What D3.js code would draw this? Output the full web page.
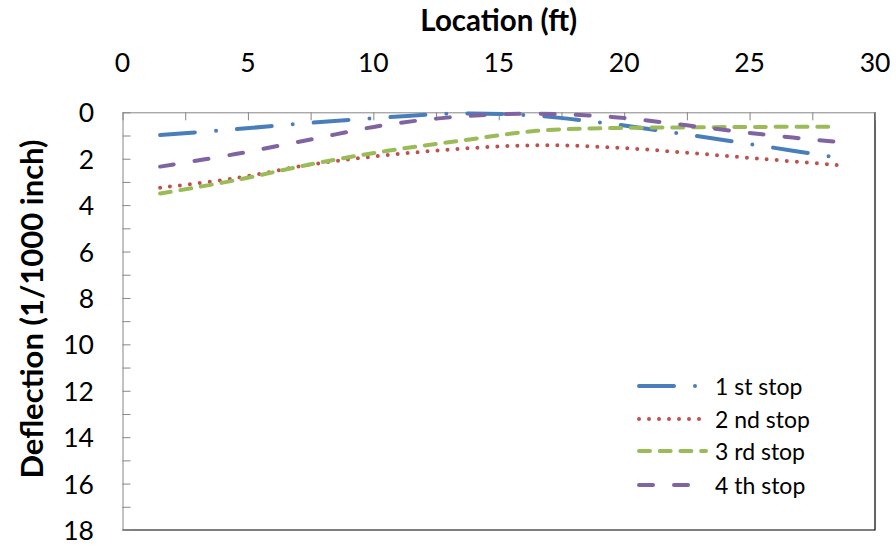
<!DOCTYPE html>
<html>
<head>
<meta charset="utf-8">
<script src="https://cdn.jsdelivr.net/npm/d3@7"></script>
<style>
  html, body { margin: 0; padding: 0; background: #fff; }
  svg { display: block; }
</style>
</head>
<body>
<svg id="chart" width="896" height="546"></svg>
<script>
// ---- data ----
const locations = [1.5, 4.5, 7.5, 10.5, 13.5, 16.5, 19.5, 22.5, 25.5, 28.5];
const stop1 = [0.98, 0.73, 0.45, 0.22, 0.05, 0.15, 0.50, 0.96, 1.45, 1.95];
const stop2 = [3.25, 2.84, 2.25, 1.85, 1.57, 1.42, 1.51, 1.74, 2.01, 2.27];
const stop3 = [3.50, 2.93, 2.24, 1.67, 1.22, 0.80, 0.68, 0.65, 0.63, 0.62];
const stop4 = [2.34, 1.80, 1.17, 0.54, 0.18, 0.06, 0.20, 0.56, 0.95, 1.28];
const seriesNames = ["1 st stop", "2 nd stop", "3 rd stop", "4 th stop"];
const xTicks = [0, 5, 10, 15, 20, 25, 30];
const yTicks = [0, 2, 4, 6, 8, 10, 12, 14, 16, 18];
const xTitle = "Location (ft)";
const yTitle = "Deflection (1/1000 inch)";

(function () {
const seriesValues = [stop1, stop2, stop3, stop4];
const colors = ["#4a7ebb", "#c0504d", "#9bbb59", "#8064a2"];
const dashes = ["35 21 0 21", "0 10", "11 9.7", "14 21"];

const svg = d3.select("#chart");
const pLeft = 122.5, pRight = 875, pTop = 112.3, pBottom = 530;
const x = d3.scaleLinear().domain([0, 30]).range([pLeft, pRight]);
const y = d3.scaleLinear().domain([0, 18]).range([pTop, pBottom]);

const FONT = "Lato, 'Open Sans', sans-serif";

// plot-area border (right & bottom, black)
svg.append("path")
  .attr("d", `M${pRight},${pTop}V${pBottom}H${pLeft}`)
  .attr("fill", "none").attr("stroke", "#000").attr("stroke-width", 1.2);

// top axis
const xAxis = d3.axisTop(x).tickValues(d3.range(0, 30.01, 2.5)).tickSizeInner(-8).tickSizeOuter(0).tickFormat("");
const gx = svg.append("g").attr("transform", `translate(0,${pTop})`).call(xAxis);
gx.select(".domain").attr("stroke", "#868686");
gx.selectAll(".tick line").attr("stroke", "#868686");

// x tick labels
svg.append("g").selectAll("text").data(xTicks).join("text")
  .attr("x", d => x(d)).attr("y", 62)
  .attr("text-anchor", "middle").attr("dominant-baseline", "central")
  .attr("font-family", FONT).attr("font-size", 26.5).attr("fill", "#000")
  .text(d => d);

// left axis
const yAxis = d3.axisLeft(y).tickValues(d3.range(0, 18.01, 1)).tickSizeInner(-8).tickSizeOuter(0).tickFormat("");
const gy = svg.append("g").attr("transform", `translate(${pLeft},0)`).call(yAxis);
gy.select(".domain").attr("stroke", "#868686");
gy.selectAll(".tick line").attr("stroke", "#868686");

svg.append("g").selectAll("text").data(yTicks).join("text")
  .attr("x", 94).attr("y", d => y(d))
  .attr("text-anchor", "end").attr("dominant-baseline", "central")
  .attr("font-family", FONT).attr("font-size", 26.5).attr("fill", "#000")
  .text(d => d);

// titles
svg.append("text").attr("x", (pLeft + pRight) / 2).attr("y", 19)
  .attr("text-anchor", "middle").attr("dominant-baseline", "central")
  .attr("font-family", FONT).attr("font-weight", "bold").attr("font-size", 29.5)
  .text(xTitle);
svg.append("text").attr("transform", `translate(31,${309}) rotate(-90)`)
  .attr("text-anchor", "middle").attr("dominant-baseline", "central")
  .attr("font-family", FONT).attr("font-weight", "bold").attr("font-size", 31)
  .text(yTitle);

// lines
const line = d3.line().x(d => x(d[0])).y(d => y(d[1])).curve(d3.curveCatmullRom.alpha(0.5));
seriesValues.forEach((vals, i) => {
  const pts = locations.map((l, j) => [l, vals[j]]);
  svg.append("path").datum(pts)
    .attr("d", line)
    .attr("fill", "none")
    .attr("stroke", colors[i])
    .attr("stroke-width", 4)
    .attr("stroke-linecap", "round")
    .attr("stroke-dasharray", dashes[i]);
});

// legend
const legendY = [386, 419, 451, 485];
const lg = svg.append("g");
seriesNames.forEach((name, i) => {
  lg.append("line")
    .attr("x1", 639).attr("x2", 706).attr("y1", legendY[i]).attr("y2", legendY[i])
    .attr("stroke", colors[i]).attr("stroke-width", 4)
    .attr("stroke-linecap", "round").attr("stroke-dasharray", dashes[i]);
  lg.append("text").attr("x", 715).attr("y", legendY[i])
    .attr("dominant-baseline", "central")
    .attr("font-family", FONT).attr("font-size", 23).attr("fill", "#000")
    .text(name);
});
})();
</script>
</body>
</html>
